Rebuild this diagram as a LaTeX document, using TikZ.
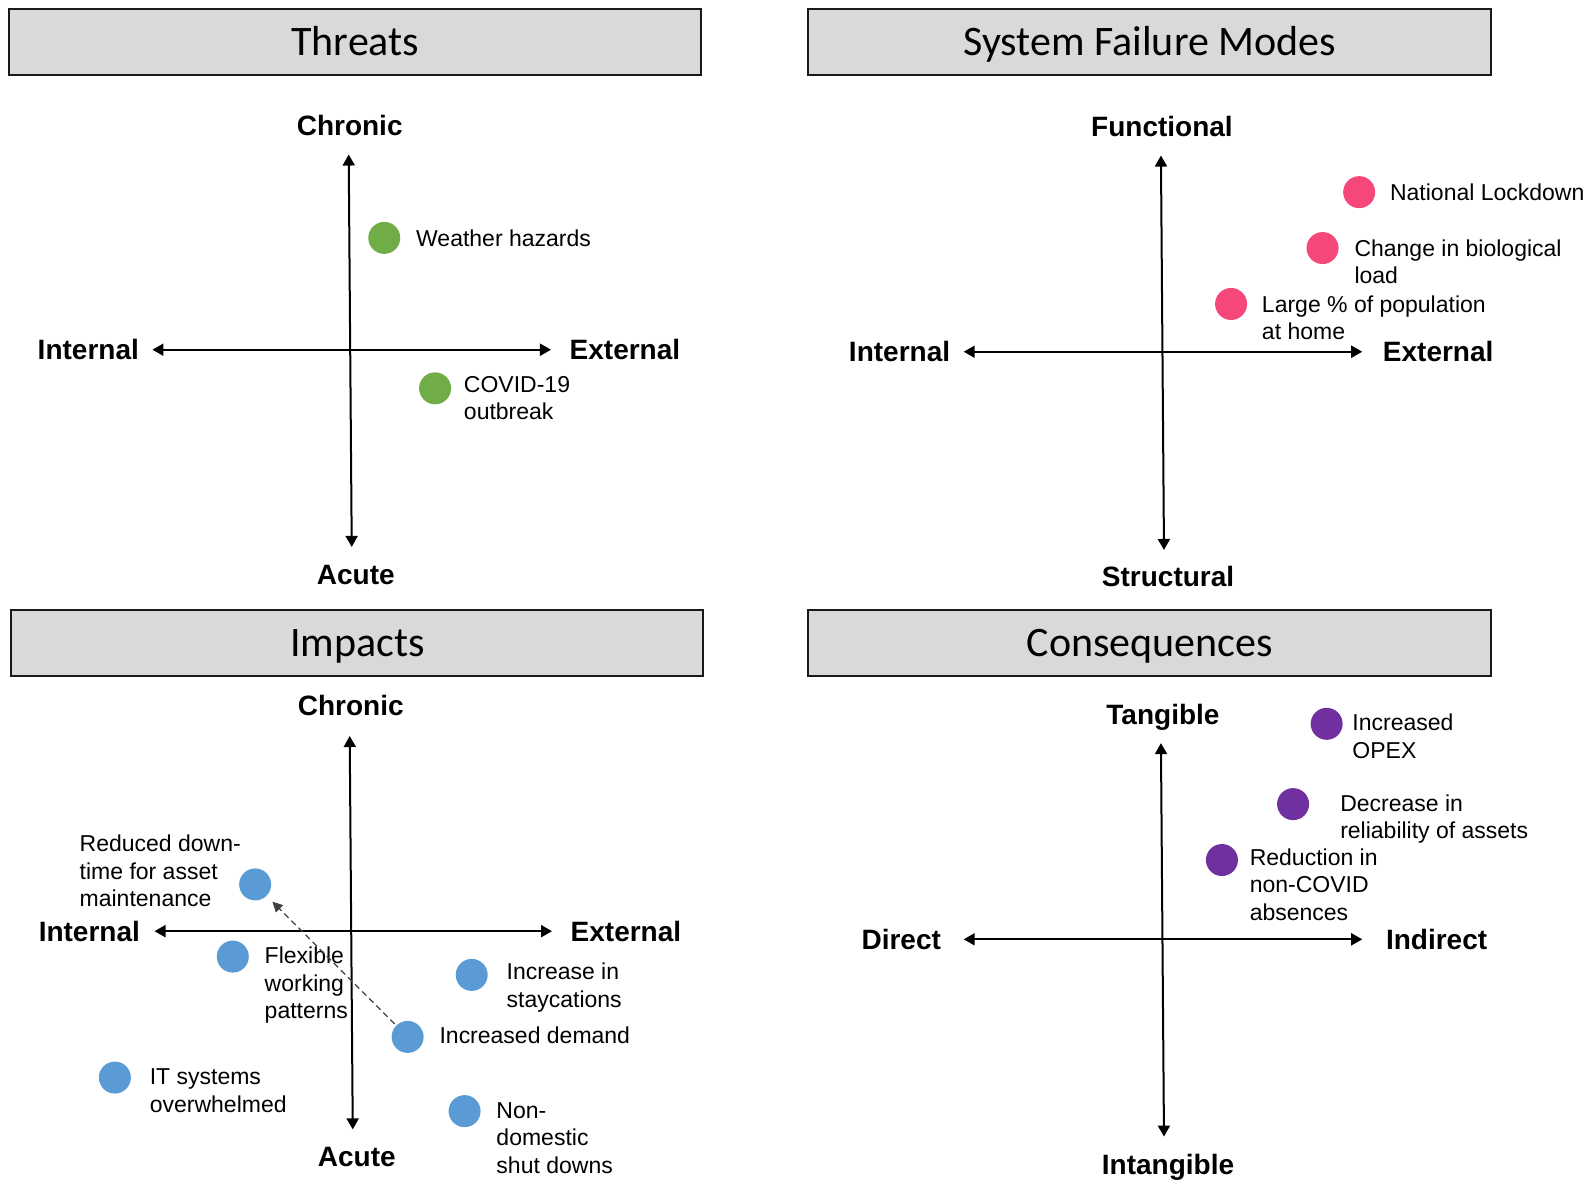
\documentclass[tikz,border=0pt]{standalone}
\usepackage{fontspec}
\setmainfont{Liberation Sans}
\newfontfamily\titlefont{Carlito}
\usetikzlibrary{arrows.meta}

\definecolor{panelgray}{HTML}{D9D9D9}
\definecolor{dotgreen}{HTML}{70AD47}
\definecolor{dotpink}{HTML}{F5477A}
\definecolor{dotblue}{HTML}{5B9BD5}
\definecolor{dotpurple}{HTML}{7030A0}

\begin{document}
\begin{tikzpicture}[x=0.5083pt,y=-0.5083pt,
  header/.style={draw=black!90,line width=1pt,fill=panelgray},
  headtext/.style={font=\titlefont\fontsize{21}{25}\selectfont,anchor=base,inner sep=0pt},
  axis/.style={line width=1pt,{Triangle[length=5.5pt,width=6pt]}-{Triangle[length=5.5pt,width=6pt]}},
  axislabel/.style={font=\fontsize{14}{16.8}\selectfont\bfseries,inner sep=0pt},
  dot/.style={circle,fill=#1,draw=none,inner sep=0pt,minimum size=16pt},
  % items are placed by the baseline of their last line
  item/.style={font=\fontsize{11.5}{13.75}\selectfont,align=left,anchor=base west,inner sep=0pt},
  dasharrow/.style={draw=black!75,line width=0.6pt,dash pattern=on 3pt off 2pt,
    -{Triangle[length=5pt,width=5pt]},shorten >=4pt,shorten <=1pt}]

\path[use as bounding box] (0,0) rectangle (1568,1162);

% ---------- headers ----------
\draw[header] (9,9) rectangle (690,74);
\draw[header] (795,9) rectangle (1467,74);
\draw[header] (11,600) rectangle (692,665);
\draw[header] (795,600) rectangle (1467,665);
\node[headtext] (h-threats) at (349.5,55) {Threats};
\node[headtext] (h-failure) at (1131,55) {System Failure Modes};
\node[headtext] (h-impacts) at (351.5,646) {Impacts};
\node[headtext] (h-conseq) at (1131,646) {Consequences};

% ---------- Threats ----------
\coordinate (t-up) at (343,152);
\coordinate (t-down) at (346,538);
\coordinate (t-left) at (150,344);
\coordinate (t-right) at (542,344);
\draw[axis] (t-up) -- (t-down);
\draw[axis] (t-left) -- (t-right);
\node[axislabel,anchor=base] (t-chronic) at (344,133) {Chronic};
\node[axislabel,anchor=base] (t-acute) at (350,575) {Acute};
\node[axislabel,anchor=base east] (t-internal) at (137,354) {Internal};
\node[axislabel,anchor=base west] (t-external) at (560,354) {External};
\node[dot=dotgreen] (t-weather) at (378,234) {};
\node[item] (t-weather-l) at (409,242) {Weather hazards};
\node[dot=dotgreen] (t-covid) at (428,382) {};
\node[item] (t-covid-l) at (456,413) {COVID-19\\outbreak};

% ---------- System Failure Modes ----------
\coordinate (f-up) at (1142,153);
\coordinate (f-down) at (1145,541);
\coordinate (f-left) at (948,346);
\coordinate (f-right) at (1340,346);
\draw[axis] (f-up) -- (f-down);
\draw[axis] (f-left) -- (f-right);
\node[axislabel,anchor=base] (f-functional) at (1143,134) {Functional};
\node[axislabel,anchor=base] (f-structural) at (1149,577) {Structural};
\node[axislabel,anchor=base east] (f-internal) at (935,356) {Internal};
\node[axislabel,anchor=base west] (f-external) at (1360,356) {External};
\node[dot=dotpink] (f-lockdown) at (1337,189) {};
\node[item] (f-lockdown-l) at (1367,197) {National Lockdown};
\node[dot=dotpink] (f-bio) at (1301,244) {};
\node[item] (f-bio-l) at (1332,279) {Change in biological\\load};
\node[dot=dotpink] (f-home) at (1211,299) {};
\node[item] (f-home-l) at (1241,334) {Large \% of population\\at home};

% ---------- Impacts ----------
\coordinate (i-up) at (344,724);
\coordinate (i-down) at (347,1111);
\coordinate (i-left) at (152,916);
\coordinate (i-right) at (543,916);
\draw[axis] (i-up) -- (i-down);
\draw[axis] (i-left) -- (i-right);
\node[axislabel,anchor=base] (i-chronic) at (345,704) {Chronic};
\node[axislabel,anchor=base] (i-acute) at (351,1147) {Acute};
\node[axislabel,anchor=base east] (i-internal) at (138,926) {Internal};
\node[axislabel,anchor=base west] (i-external) at (561,926) {External};
\node[dot=dotblue] (i-downtime) at (251,870) {};
\node[item] (i-downtime-l) at (78,892) {Reduced down-\\time for asset\\maintenance};
\node[dot=dotblue] (i-flexible) at (229,941) {};
\node[item] (i-flexible-l) at (260,1002) {Flexible\\working\\patterns};
\node[dot=dotblue] (i-stay) at (464,959) {};
\node[item] (i-stay-l) at (498,991) {Increase in\\staycations};
\node[dot=dotblue] (i-demand) at (401,1020) {};
\node[item] (i-demand-l) at (432,1026) {Increased demand};
\node[dot=dotblue] (i-it) at (113,1060) {};
\node[item] (i-it-l) at (147,1094) {IT systems\\overwhelmed};
\node[dot=dotblue] (i-shut) at (457,1093) {};
\node[item] (i-shut-l) at (488,1154) {Non-\\domestic\\shut downs};
\draw[dasharrow] (i-demand) -- (i-downtime);

% ---------- Consequences ----------
\coordinate (c-up) at (1142,731);
\coordinate (c-down) at (1145,1118);
\coordinate (c-left) at (948,924);
\coordinate (c-right) at (1340,924);
\draw[axis] (c-up) -- (c-down);
\draw[axis] (c-left) -- (c-right);
\node[axislabel,anchor=base] (c-tangible) at (1144,713) {Tangible};
\node[axislabel,anchor=base] (c-intangible) at (1149,1155) {Intangible};
\node[axislabel,anchor=base east] (c-direct) at (926,934) {Direct};
\node[axislabel,anchor=base west] (c-indirect) at (1363,934) {Indirect};
\node[dot=dotpurple] (c-opex) at (1305,712) {};
\node[item] (c-opex-l) at (1330,746) {Increased\\OPEX};
\node[dot=dotpurple] (c-reliab) at (1272,791) {};
\node[item] (c-reliab-l) at (1318,825) {Decrease in\\reliability of assets};
\node[dot=dotpurple] (c-absence) at (1202,846) {};
\node[item] (c-absence-l) at (1229,905) {Reduction in\\non-COVID\\absences};

\end{tikzpicture}
\end{document}
